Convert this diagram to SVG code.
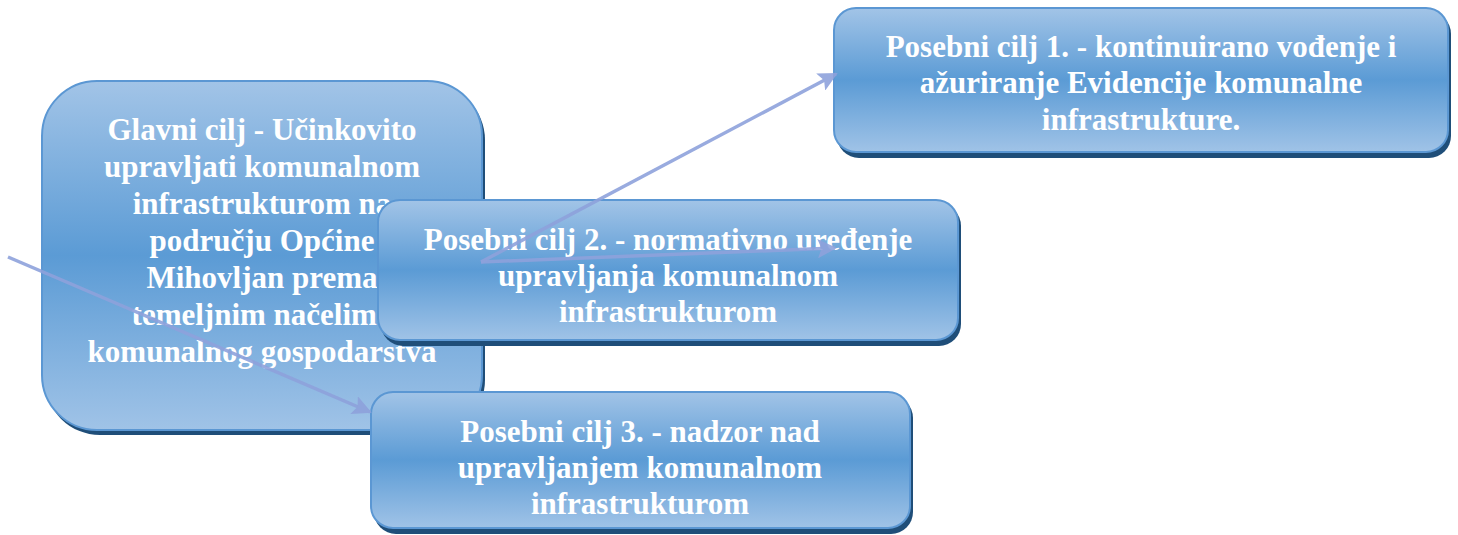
<svg xmlns="http://www.w3.org/2000/svg" width="1458" height="535" viewBox="0 0 1458 535">
<defs>
<linearGradient id="g" x1="0" y1="0" x2="0" y2="1">
<stop offset="0" stop-color="#A2C4E7"/>
<stop offset="0.5" stop-color="#5B9BD5"/>
<stop offset="1" stop-color="#A0C3E7"/>
</linearGradient>
<marker id="ah" viewBox="0 0 10 10" refX="9" refY="5" markerWidth="5.5" markerHeight="5.5" orient="auto" markerUnits="strokeWidth">
<path d="M0,0 L10,5 L0,10 L2,5 z" fill="#8EA2DC"/>
</marker>
</defs>
<style>
.box{fill:url(#g);stroke:#5B97D3;stroke-width:2}
.sh{fill:#1F4E79}
.t{font-family:"Liberation Serif",serif;font-weight:bold;font-size:31px;fill:#FFFFFF;text-anchor:middle}
.c{stroke:#8EA2DC;stroke-width:3.5;fill:none;opacity:0.9}
</style>
<g id="main">
<rect class="sh" x="45" y="85" width="440" height="350" rx="55"/>
<rect class="box" x="42" y="81" width="440" height="349" rx="55"/>
<text class="t" x="262" y="140">Glavni cilj - Učinkovito</text>
<text class="t" x="262" y="177">upravljati komunalnom</text>
<text class="t" x="262" y="214">infrastrukturom na</text>
<text class="t" x="262" y="251">području Općine</text>
<text class="t" x="262" y="288">Mihovljan prema</text>
<text class="t" x="262" y="325">temeljnim načelima</text>
<text class="t" x="262" y="362">komunalnog gospodarstva</text>
</g>
<g id="cilj2">
<rect class="sh" x="381" y="204" width="580" height="142" rx="22"/>
<rect class="box" x="378" y="200" width="580" height="140" rx="22"/>
<text class="t" x="668" y="250">Posebni cilj 2. - normativno uređenje</text>
<text class="t" x="668" y="286">upravljanja komunalnom</text>
<text class="t" x="668" y="322">infrastrukturom</text>
</g>
<g id="cilj1">
<rect class="sh" x="837" y="12" width="614" height="146" rx="22"/>
<rect class="box" x="834" y="8" width="614" height="144" rx="22"/>
<text class="t" x="1141" y="57">Posebni cilj 1. - kontinuirano vođenje i</text>
<text class="t" x="1141" y="93">ažuriranje Evidencije komunalne</text>
<text class="t" x="1141" y="130">infrastrukture.</text>
</g>
<g id="cilj3">
<rect class="sh" x="374" y="396" width="539" height="138" rx="22"/>
<rect class="box" x="371" y="392" width="539" height="136" rx="22"/>
<text class="t" x="640" y="442">Posebni cilj 3. - nadzor nad</text>
<text class="t" x="640" y="478">upravljanjem komunalnom</text>
<text class="t" x="640" y="514">infrastrukturom</text>
</g>
<g id="connectors">
<line class="c" x1="8" y1="257" x2="370" y2="412" marker-end="url(#ah)"/>
<line class="c" x1="481" y1="262" x2="836" y2="74" marker-end="url(#ah)"/>
<line class="c" x1="481" y1="262" x2="835" y2="248" marker-end="url(#ah)"/>
</g>
</svg>
